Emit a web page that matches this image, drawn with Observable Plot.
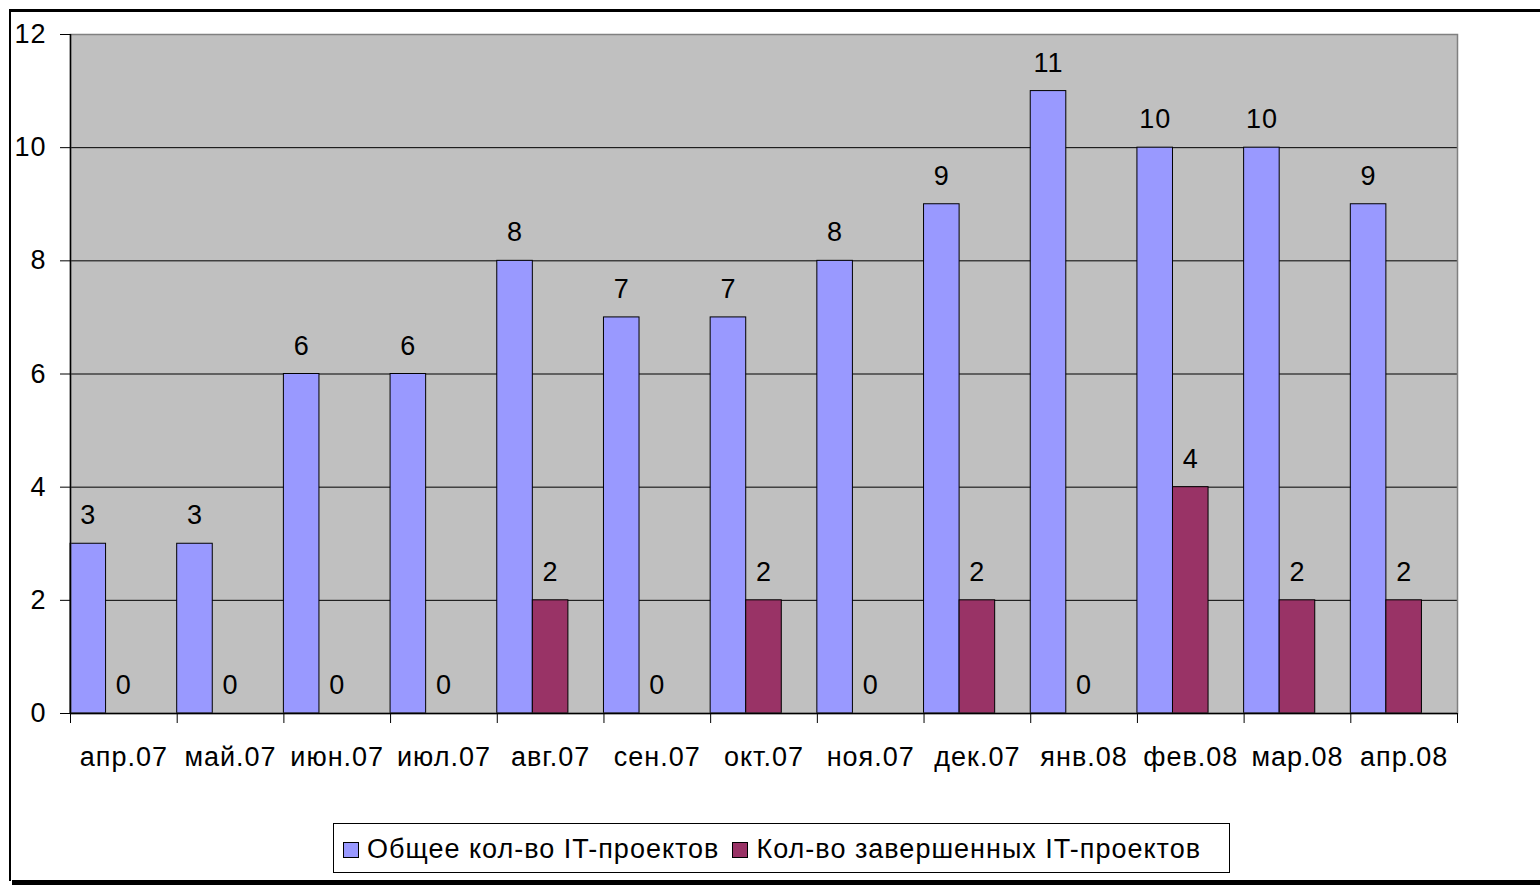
<!DOCTYPE html>
<html>
<head>
<meta charset="utf-8">
<script src="https://cdn.jsdelivr.net/npm/d3@7"></script>
<script src="https://cdn.jsdelivr.net/npm/@observablehq/plot@0.6"></script>
<style>
  html, body { margin: 0; padding: 0; background: #fff; overflow: hidden; }
  #wrap { position: relative; width: 1540px; height: 885px; font-family: "Liberation Sans", Arial, sans-serif; }
  #chart { position: absolute; left: 0; top: 0; }
  #border { position: absolute; left: 9px; top: 9px; width: 1600px; height: 869px; border-left: 2px solid #000; border-top: 3px solid #000; box-sizing: content-box; }
  #shadow { position: absolute; left: 12px; top: 880px; width: 1540px; height: 5px; background: #000; }
  #legend { position: absolute; left: 333px; top: 823px; width: 897px; border: 1px solid #000; background: #fff;
            display: flex; align-items: center; font-size: 27px; letter-spacing: 1px; color: #000; white-space: nowrap; padding-top: 3px; box-sizing: border-box; height: 50px; }
  .item { display: flex; align-items: center; }
  .sw { width: 14px; height: 14px; border: 1px solid #000; margin-left: 9px; margin-right: 8px; }
  .item + .item .sw { margin-left: 13px; }
</style>
</head>
<body>
<div id="wrap">
  <div id="border"></div>
  <div id="chart"></div>
  <div id="legend"></div>
  <div id="shadow"></div>
</div>
<script>
const months = ["апр.07","май.07","июн.07","июл.07","авг.07","сен.07","окт.07","ноя.07","дек.07","янв.08","фев.08","мар.08","апр.08"];
const totalProjects = [3,3,6,6,8,7,7,8,9,11,10,10,9];
const doneProjects = [0,0,0,0,2,0,2,0,2,0,4,2,2];
const yTicks = [0,2,4,6,8,10,12];
const seriesNames = ["Общее кол-во IT-проектов","Кол-во завершенных IT-проектов"];
const seriesColors = ["#9999ff","#993366"];

const rows = months.map((m, i) => ({i, m, total: totalProjects[i], done: doneProjects[i]}));

const plot = Plot.plot({
  width: 1540,
  height: 790,
  marginLeft: 70,
  marginRight: 83,
  marginTop: 34,
  marginBottom: 77,
  style: {fontFamily: "'Liberation Sans', Arial, sans-serif", fontSize: "27px", letterSpacing: "1px", color: "#000", background: "transparent"},
  x: {type: "linear", domain: [0, months.length]},
  y: {domain: [0, 12]},
  marks: [
    Plot.frame({fill: "#c0c0c0"}),
    Plot.ruleY(yTicks.filter(t => t > 0 && t < 12), {stroke: "#000", strokeWidth: 1}),
    Plot.rectY(rows, {x1: d => d.i, x2: d => d.i + 1/3, y1: 0, y2: "total", fill: seriesColors[0], stroke: "#000", strokeWidth: 1}),
    Plot.rectY(rows.filter(d => d.done > 0), {x1: d => d.i + 1/3, x2: d => d.i + 2/3, y1: 0, y2: "done", fill: seriesColors[1], stroke: "#000", strokeWidth: 1}),
    Plot.frame({stroke: "#808080", strokeWidth: 1.5}),
    Plot.ruleX([0], {stroke: "#000", strokeWidth: 1.5}),
    Plot.ruleY([0], {stroke: "#000", strokeWidth: 1.5}),
    Plot.axisY({ticks: yTicks, tickSize: 10, tickPadding: 14, fontSize: 27, stroke: "#000"}),
    Plot.axisX(d3.range(months.length + 1), {tickSize: 10, tickFormat: () => "", stroke: "#000"}),
    Plot.axisX(months.map((m, i) => i + 0.5), {tickSize: 0, tickPadding: 33, fontSize: 27, tickFormat: v => months[Math.floor(v)]}),
    Plot.text(rows, {x: d => d.i + 1/6, y: "total", text: d => String(d.total), dy: -28, fontSize: 27, fill: "#000"}),
    Plot.text(rows, {x: d => d.i + 0.5, y: "done", text: d => String(d.done), dy: -28, fontSize: 27, fill: "#000"})
  ]
});
document.getElementById("chart").appendChild(plot);

const legend = document.getElementById("legend");
seriesNames.forEach((name, k) => {
  const it = document.createElement("div");
  it.className = "item";
  const sw = document.createElement("div");
  sw.className = "sw";
  sw.style.background = seriesColors[k];
  const tx = document.createElement("span");
  tx.textContent = name;
  it.appendChild(sw);
  it.appendChild(tx);
  legend.appendChild(it);
});
</script>
</body>
</html>
